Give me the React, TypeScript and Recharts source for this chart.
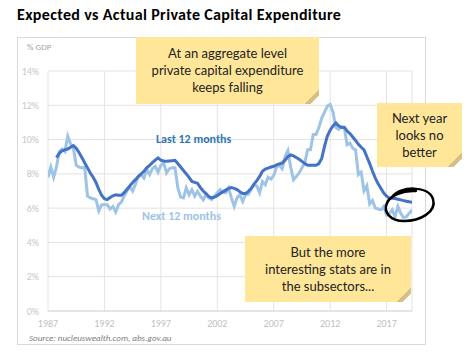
import React from "react";
import { LineChart, Line, XAxis, YAxis, CartesianGrid } from "recharts";

const startYear = 1987;
const xTicks = [1987, 1992, 1997, 2002, 2007, 2012, 2017];
const yTicks = [0, 2, 4, 6, 8, 10, 12, 14];

// Quarterly, % of GDP, from 1987 Q1
const nextTwelveMonths = [
  7.8, 8.4, 7.8, 8.4, 9.3, 9.45, 9.3, 10.2, 9.75, 9.5,
  8.5, 8.4, 8.35, 8.4, 6.7, 6.6, 6.55, 6.5, 5.85, 6.2,
  6.2, 6.2, 5.95, 6.1, 5.77, 6.2, 6.35, 6.7, 7.0, 7.25,
  7.0, 7.4, 7.85, 7.95, 7.76, 8.25, 7.95, 8.3, 8.44, 8.09,
  8.5, 8.64, 8.05, 8.3, 8.35, 8.35, 7.2, 6.65, 6.6, 7.18,
  6.78, 7.08, 6.7, 6.98, 6.7, 6.49, 6.78, 6.6, 6.5, 6.7,
  6.9, 7.08, 6.95, 6.9, 7.18, 6.6, 6.1, 6.6, 6.78, 6.39,
  6.78, 6.8, 7.1, 7.35, 7.3, 6.9, 7.55, 7.37, 7.8, 7.7,
  7.9, 8.4, 8.5, 8.3, 9.0, 9.35, 8.4, 7.66, 7.85, 8.05,
  8.35, 8.65, 9.4, 9.4, 10.3, 10.3, 10.7, 11.25, 11.6, 11.95,
  12.05, 11.6, 10.7, 10.6, 10.75, 10.7, 9.7, 9.8, 9.5, 9.4,
  7.95, 8.1, 7.0, 7.3, 6.25, 6.45, 6.0, 5.95, 5.9, 6.1,
  5.6, 5.7, 5.9, 5.5, 6.1, 5.7, 5.45, 5.5, 5.7, 5.9,
];

const lastTwelveMonths = [
  null, null, null, 8.95, 9.2, 9.35, 9.4, 9.45, 9.55, 9.65,
  9.5, 9.25, 8.95, 8.65, 8.35, 8.05, 7.8, 7.5, 7.1, 6.75,
  6.55, 6.5, 6.62, 6.72, 6.78, 6.75, 6.75, 6.9, 7.1, 7.3,
  7.5, 7.66, 7.85, 8.0, 8.15, 8.35, 8.5, 8.65, 8.8, 8.93,
  8.8, 8.75, 8.73, 8.75, 8.77, 8.79, 8.6, 8.4, 8.2, 8.0,
  7.8, 7.56, 7.5, 7.45, 7.2, 7.0, 6.85, 6.68, 6.6, 6.65,
  6.73, 6.85, 6.95, 7.05, 7.15, 7.2, 7.15, 7.08, 6.95, 6.85,
  6.85, 6.98, 7.15, 7.4, 7.6, 7.85, 8.15, 8.28, 8.33, 8.4,
  8.44, 8.52, 8.58, 8.63, 8.8, 9.0, 9.1, 9.05, 8.95, 8.85,
  8.73, 8.6, 8.5, 8.5, 8.5, 8.5, 8.6, 8.9, 9.6, 10.2,
  10.55, 10.8, 10.97, 10.8, 10.7, 10.72, 10.5, 10.35, 10.15, 9.95,
  9.72, 9.55, 9.4, 9.0, 8.6, 8.15, 7.75, 7.42, 7.15, 6.88,
  6.7, 6.58, 6.58, 6.56, 6.52, 6.48, 6.44, 6.4, 6.37, 6.35,
];

const data = nextTwelveMonths.map((v, i) => ({
  t: startYear + i / 4,
  next: v,
  last: lastTwelveMonths[i],
}));

const axisFont = "Carlito, Lato, 'Liberation Sans', sans-serif";
const handFont = "Lato, 'Open Sans', sans-serif";
const noteBg = "#FFE699";

function Note({ left, top, width, height, lines }: { left: number; top: number; width: number; height: number; lines: string[] }) {
  return (
    <div
      style={{
        position: "absolute",
        left,
        top,
        width,
        height,
        background: `linear-gradient(315deg, #ffffff 0px, #ffffff 6px, #d6bf86 6px, #d6bf86 10px, ${noteBg} 10px)`,
        display: "flex",
        flexDirection: "column",
        alignItems: "center",
        justifyContent: "center",
        fontFamily: handFont,
        fontSize: 13,
        lineHeight: "17px",
        color: "#222",
        textAlign: "center",
      }}
    >
      {lines.map((l, i) => (
        <div key={i}>{l}</div>
      ))}
    </div>
  );
}

export default function App() {
  return (
    <div style={{ position: "absolute", left: 0, top: 0, width: 469, height: 362, background: "#fff", overflow: "hidden" }}>
      <div
        style={{
          position: "absolute",
          left: 17,
          top: 5,
          fontFamily: "Carlito, Lato, sans-serif",
          fontWeight: 700,
          fontSize: 16,
          letterSpacing: 0.35,
          color: "#000",
          whiteSpace: "nowrap",
        }}
      >
        Expected vs Actual Private Capital Expenditure
      </div>
      <div
        style={{
          position: "absolute",
          left: 17,
          top: 37,
          width: 407,
          height: 306,
          border: "1px solid #d9d9d9",
        }}
      />
      <div
        style={{
          position: "absolute",
          left: 27,
          top: 41,
          fontFamily: axisFont,
          fontSize: 9,
          color: "#a6a6a6",
        }}
      >
        % GDP
      </div>
      <div style={{ position: "absolute", left: 0, top: 0 }}>
        <LineChart width={469} height={362} data={data} margin={{ top: 71, right: 57, bottom: 21, left: 18 }}>
          <CartesianGrid stroke="#e3e3e3" strokeWidth={1} />
          <XAxis
            dataKey="t"
            type="number"
            domain={[1987, 2019.25]}
            ticks={xTicks}
            allowDataOverflow
            height={30}
            tickLine={false}
            tickSize={0}
            tickMargin={9}
            axisLine={{ stroke: "#d9d9d9" }}
            tick={{ fill: "#bfbfbf", fontSize: 10, fontFamily: axisFont }}
          />
          <YAxis
            type="number"
            domain={[0, 14]}
            ticks={yTicks}
            width={30}
            tickLine={false}
            axisLine={false}
            tickSize={0}
            tickMargin={9}
            tickFormatter={(v: number) => `${v}%`}
            tick={{ fill: "#c8c8c8", fontSize: 10, fontFamily: axisFont }}
          />
          <Line
            type="linear"
            dataKey="next"
            stroke="#9DC3E6"
            strokeWidth={3}
            dot={false}
            isAnimationActive={false}
          />
          <Line
            type="linear"
            dataKey="last"
            stroke="#4472C4"
            strokeWidth={3}
            dot={false}
            isAnimationActive={false}
            connectNulls={false}
          />
        </LineChart>
      </div>
      <div
        style={{
          position: "absolute",
          left: 156,
          top: 132,
          fontFamily: axisFont,
          fontWeight: 700,
          fontSize: 12,
          color: "#2E75B6",
          whiteSpace: "nowrap",
        }}
      >
        Last 12 months
      </div>
      <div
        style={{
          position: "absolute",
          left: 142,
          top: 209,
          fontFamily: axisFont,
          fontWeight: 700,
          fontSize: 12,
          color: "#9DC3E6",
          whiteSpace: "nowrap",
        }}
      >
        Next 12 months
      </div>
      <div
        style={{
          position: "absolute",
          left: 29,
          top: 332,
          fontFamily: axisFont,
          fontStyle: "italic",
          fontSize: 9,
          color: "#808080",
          whiteSpace: "nowrap",
        }}
      >
        Source: nucleuswealth.com, abs.gov.au
      </div>
      <Note left={136} top={37} width={183} height={67} lines={["At an aggregate level", "private capital expenditure", "keeps falling"]} />
      <Note left={377} top={103} width={85} height={64} lines={["Next year", "looks no", "better"]} />
      <Note left={245} top={236} width={166} height={66} lines={["But the more", "interesting stats are in", "the subsectors..."]} />
      <svg style={{ position: "absolute", left: 0, top: 0 }} width={469} height={362}>
        <path
          d="M 392 197 C 400 186, 428 185, 433 199 C 437 212, 420 221, 404 221 C 390 221, 383 212, 387 203 C 390 196, 402 190, 416 191"
          fill="none"
          stroke="#000"
          strokeWidth={2.5}
          strokeLinecap="round"
        />
      </svg>
    </div>
  );
}
